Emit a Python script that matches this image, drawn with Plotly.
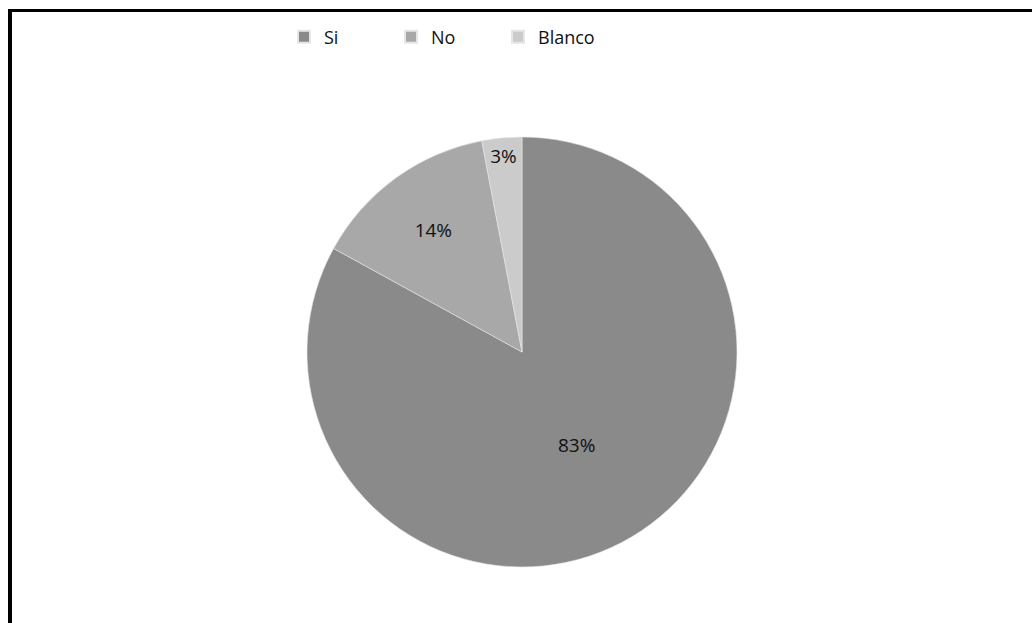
import plotly.graph_objects as go

labels = ["Si", "No", "Blanco"]
values = [83, 14, 3]
colors = ["#8a8a8a", "#a8a8a8", "#cbcbcb"]

W, H = 1032, 623

fig = go.Figure(go.Pie(
    labels=labels,
    values=values,
    sort=False,
    direction="clockwise",
    rotation=0,
    marker=dict(colors=colors, line=dict(color="#e6e6e6", width=0.6)),
    textinfo="percent",
    texttemplate="%{percent:.0%}",
    textposition="inside",
    insidetextorientation="horizontal",
    textfont=dict(family="Open Sans, Lato, sans-serif", size=19, color="#111111"),
    domain=dict(x=[(522 - 215) / W, (522 + 215) / W], y=[1 - 567 / H, 1 - 137 / H]),
    showlegend=True,
))

fig.update_layout(
    width=W, height=H,
    margin=dict(l=0, r=0, t=0, b=0),
    paper_bgcolor="white",
    plot_bgcolor="white",
    font=dict(family="Open Sans, Lato, sans-serif", color="#111111"),
    legend=dict(
        orientation="h",
        x=284 / W, xanchor="left",
        y=1 - 37 / H, yanchor="middle",
        entrywidth=62, entrywidthmode="pixels",
        font=dict(size=18, family="Open Sans, Lato, sans-serif", color="#111111"),
        itemsizing="constant",
        bgcolor="rgba(0,0,0,0)",
    ),
    shapes=[
        dict(type="line", xref="paper", yref="paper",
             x0=8 / W, x1=1.0, y0=1 - 10.5 / H, y1=1 - 10.5 / H,
             line=dict(color="black", width=3)),
        dict(type="line", xref="paper", yref="paper",
             x0=10 / W, x1=10 / W, y0=0, y1=1 - 9 / H,
             line=dict(color="black", width=4)),
    ],
)

fig.write_html("out.html")
